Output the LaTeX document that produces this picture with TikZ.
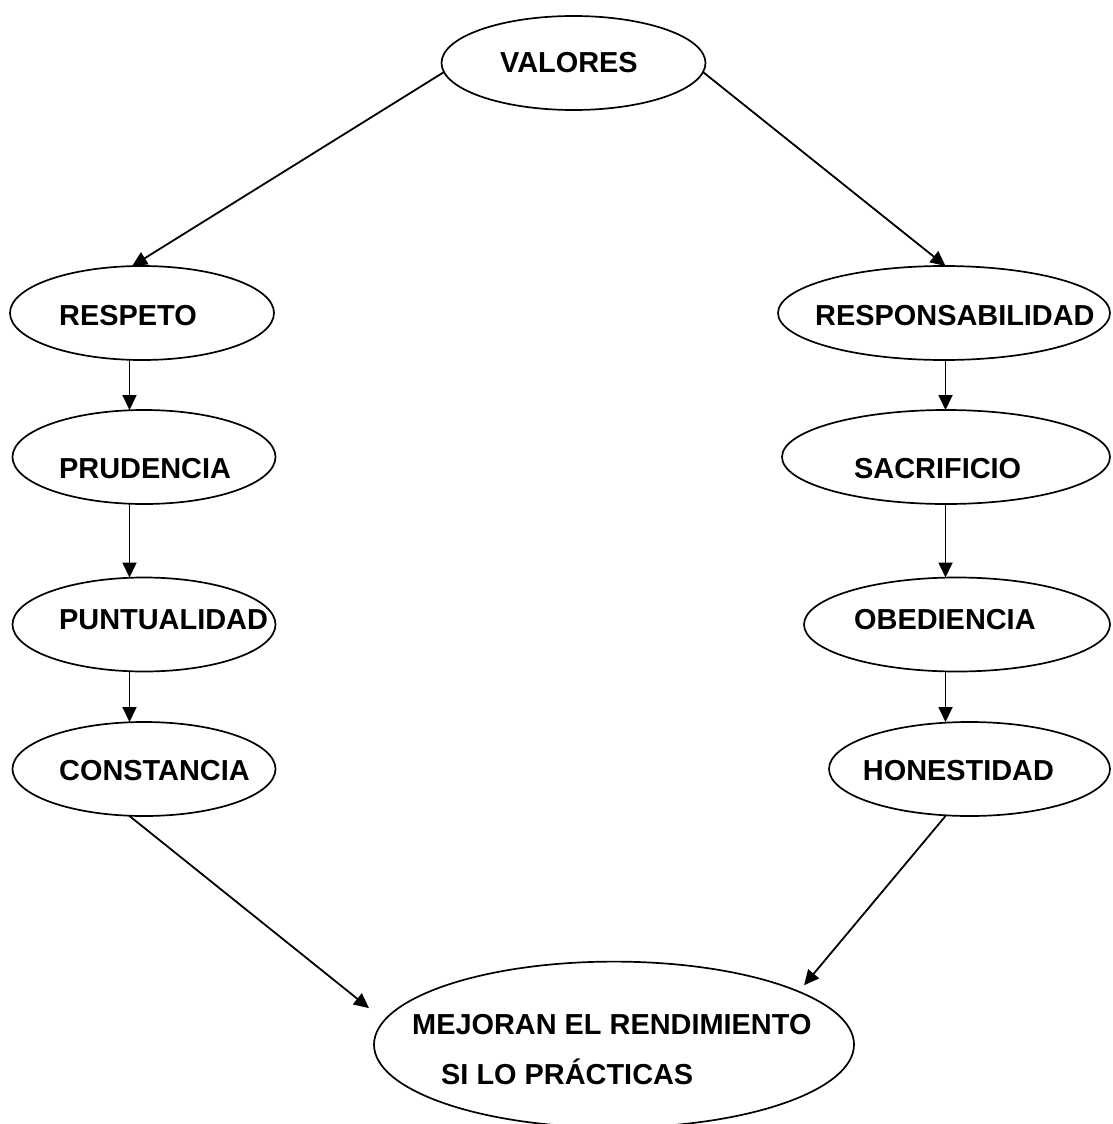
\documentclass[tikz,border=0pt]{standalone}
\usepackage{fontspec}
\setmainfont{Liberation Sans}
\usetikzlibrary{shapes.geometric,arrows.meta}
\begin{document}
\begin{tikzpicture}[x=1pt,y=-1pt,
  oval/.style={draw, ellipse, line width=1.7pt, inner sep=0pt, outer sep=0pt},
  lbl/.style={anchor=base west, inner sep=0pt, font=\fontsize{28.9}{34}\selectfont\bfseries},
  arr/.style={line width=1.8pt, -{Triangle[length=15pt,width=14pt]}}]
\useasboundingbox (0,0) rectangle (1113,1124);
% shapes
\node[oval, minimum width=264pt, minimum height=94pt] (valores) at (573.5,63) {};
\node[oval, minimum width=264pt, minimum height=94pt] (respeto) at (142,313) {};
\node[oval, minimum width=263pt, minimum height=94pt] (prudencia) at (144,457) {};
\node[oval, minimum width=263pt, minimum height=94pt] (puntualidad) at (144,624.5) {};
\node[oval, minimum width=263pt, minimum height=94pt] (constancia) at (144,769) {};
\node[oval, minimum width=332pt, minimum height=94pt] (responsabilidad) at (944,313) {};
\node[oval, minimum width=328pt, minimum height=94pt] (sacrificio) at (946,457) {};
\node[oval, minimum width=306pt, minimum height=94pt] (obediencia) at (957,624.5) {};
\node[oval, minimum width=281pt, minimum height=94pt] (honestidad) at (969.5,769) {};
\node[oval, minimum width=480pt, minimum height=166pt] (mejoran) at (614,1044.6) {};
% texts
\node[lbl] (tvalores) at (500,72.5) {VALORES};
\node[lbl] (trespeto) at (59,325) {RESPETO};
\node[lbl] (tprudencia) at (59,478) {PRUDENCIA};
\node[lbl] (tpuntualidad) at (59,629) {PUNTUALIDAD};
\node[lbl] (tconstancia) at (59,780.5) {CONSTANCIA};
\node[lbl] (tresponsabilidad) at (815,325) {RESPONSABILIDAD};
\node[lbl] (tsacrificio) at (854,478) {SACRIFICIO};
\node[lbl] (tobediencia) at (854,629) {OBEDIENCIA};
\node[lbl] (thonestidad) at (862.7,780.5) {HONESTIDAD};
\node[lbl] (tmejoran) at (412,1034) {MEJORAN EL RENDIMIENTO};
\node[lbl] (tsilo) at (441,1084) {SI LO PRÁCTICAS};
% connector columns
\coordinate (lx) at (129.5,0);
\coordinate (rx) at (945.5,0);
% connectors
\draw[arr] (valores.184) -- (respeto.102);
\draw[arr] (valores.356) -- (responsabilidad.north -| rx);
\draw[arr] (respeto.south -| lx) -- (prudencia.north -| lx);
\draw[arr] (prudencia.south -| lx) -- (puntualidad.north -| lx);
\draw[arr] (puntualidad.south -| lx) -- (constancia.north -| lx);
\draw[arr] (responsabilidad.south -| rx) -- (sacrificio.north -| rx);
\draw[arr] (sacrificio.south -| rx) -- (obediencia.north -| rx);
\draw[arr] (obediencia.south -| rx) -- (honestidad.north -| rx);
\draw[arr, shorten >=19.7pt] (constancia.south -| lx) -- (mejoran.174);
\draw[arr, shorten >=8.3pt] (honestidad.south -| rx) -- (mejoran.16.5);
\end{tikzpicture}
\end{document}
